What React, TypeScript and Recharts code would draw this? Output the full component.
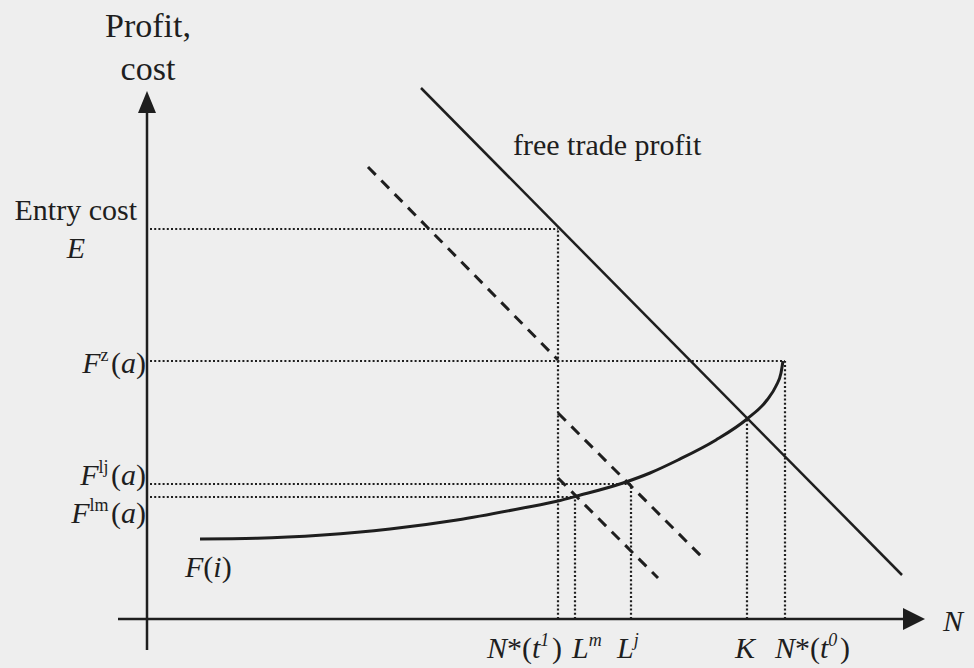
import React from 'react';
import { LineChart, Line, XAxis, YAxis, ReferenceLine, ReferenceDot } from 'recharts';

const W = 974;
const H = 668;
const INK = '#1e1e1e';
const BG = '#eeeeee';
const FONT = '"Liberation Serif", "Times New Roman", serif';

// Values in diagram units: N along x, profit/cost along y (origin at the axes' crossing)
const xTickValues = [41.1, 42.8, 48.4, 60.0, 63.8]; // N*(t1), L^m, L^j, K, N*(t0)
const yTickValues = [39.0, 25.8, 13.5, 12.2]; // E, F^z(a), F^lj(a), F^lm(a)
const kHeight = 20.0; // where F(i) meets free trade profit

const freeTradeProfit = [
    { x: 27.4, y: 53.1 },
    { x: 75.5, y: 4.4 },
];
const dashedHigh = [
    { x: 22.1, y: 45.2 },
    { x: 41.1, y: 25.9 },
];
const dashedMid = [
    { x: 41.1, y: 20.6 },
    { x: 55.5, y: 6.2 },
];
const dashedLow = [
    { x: 41.1, y: 14.1 },
    { x: 51.1, y: 4.1 },
];
const fCurve = [
    { x: 5.3, y: 8.0 },
    { x: 11.0, y: 8.07 },
    { x: 17.6, y: 8.4 },
    { x: 24.3, y: 9.0 },
    { x: 31.0, y: 9.9 },
    { x: 37.6, y: 11.1 },
    { x: 41.1, y: 11.8 },
    { x: 43.0, y: 12.3 },
    { x: 47.6, y: 13.6 },
    { x: 50.3, y: 14.6 },
    { x: 53.1, y: 15.9 },
    { x: 56.9, y: 17.9 },
    { x: 60.0, y: 20.0 },
    { x: 62.0, y: 21.9 },
    { x: 62.9, y: 23.3 },
    { x: 63.4, y: 24.6 },
    { x: 63.6, y: 25.8 },
];

const xAxisRange = [-2.9, 75.6];
const yAxisRange = [-3.1, 50.6];
const xArrowTip = { x: 77.8, y: 0 };
const yArrowTip = { x: 0, y: 52.8 };

// dotted guides built from the tick values
const hGuides = [
    { y: yTickValues[0], x: xTickValues[0] },
    { y: yTickValues[1], x: xTickValues[4] },
    { y: yTickValues[2], x: xTickValues[2] },
    { y: yTickValues[3], x: xTickValues[1] },
];
const vGuides = [
    { x: xTickValues[0], y: yTickValues[0] },
    { x: xTickValues[1], y: yTickValues[3] },
    { x: xTickValues[2], y: yTickValues[2] },
    { x: xTickValues[3], y: kHeight },
    { x: xTickValues[4], y: yTickValues[1] },
];

const textStyle = { fontFamily: FONT, fontSize: 30, fill: INK };
const SUP = 18;

const sup = (s: string, italic = false) => (
    <>
        <tspan fontSize={SUP} dy={-12} fontStyle={italic ? 'italic' : 'normal'}>{s}</tspan>
        <tspan dy={12}>{'\u200a'}</tspan>
    </>
);

// x-axis tick labels (rich text), with start offset from their tick
const xTickLabels: { dx: number; body: React.ReactNode }[] = [
    { dx: -71, body: <><tspan fontStyle="italic">N</tspan>*(<tspan fontStyle="italic">t</tspan>{sup('1', true)})</> },
    { dx: -3, body: <><tspan fontStyle="italic">L</tspan>{sup('m', true)}</> },
    { dx: -14, body: <><tspan fontStyle="italic">L</tspan>{sup('j', true)}</> },
    { dx: -12, body: <tspan fontStyle="italic">K</tspan> },
    { dx: -10, body: <><tspan fontStyle="italic">N</tspan>*(<tspan fontStyle="italic">t</tspan>{sup('0', true)})</> },
];

const yTickLabels: { dy: number; body: React.ReactNode }[] = [
    { dy: 0, body: null },
    { dy: 12, body: <><tspan fontStyle="italic">F</tspan>{sup('z')}(<tspan fontStyle="italic">a</tspan>)</> },
    { dy: 1, body: <><tspan fontStyle="italic">F</tspan>{sup('lj')}(<tspan fontStyle="italic">a</tspan>)</> },
    { dy: 26, body: <><tspan fontStyle="italic">F</tspan>{sup('lm')}(<tspan fontStyle="italic">a</tspan>)</> },
];

const XLabelY = -3.9;

export default function App() {
    return (
        <div style={{ position: 'absolute', left: 0, top: 0, width: W, height: H, background: BG }}>
            <LineChart width={W} height={H} margin={{ top: 0, right: 0, bottom: 0, left: 0 }}>
                <XAxis type="number" dataKey="x" domain={[-14.7, 82.7]} hide allowDataOverflow />
                <YAxis type="number" dataKey="y" domain={[-4.9, 61.9]} hide allowDataOverflow />

                {/* dotted guides */}
                {hGuides.map((g, i) => (
                    <ReferenceLine
                        key={`h${i}`}
                        segment={[{ x: 0.3, y: g.y }, { x: g.x, y: g.y }]}
                        stroke={INK}
                        strokeWidth={2.2}
                        strokeDasharray="2 2.2"
                    />
                ))}
                {vGuides.map((g, i) => (
                    <ReferenceLine
                        key={`v${i}`}
                        segment={[{ x: g.x, y: 0 }, { x: g.x, y: g.y }]}
                        stroke={INK}
                        strokeWidth={2.2}
                        strokeDasharray="2 2.2"
                    />
                ))}

                {/* axes */}
                <ReferenceLine segment={[{ x: xAxisRange[0], y: 0 }, { x: xAxisRange[1], y: 0 }]} stroke={INK} strokeWidth={2.5} />
                <ReferenceLine segment={[{ x: 0, y: yAxisRange[0] }, { x: 0, y: yAxisRange[1] }]} stroke={INK} strokeWidth={2.5} />

                <Line data={freeTradeProfit} dataKey="y" type="linear" stroke={INK} strokeWidth={2.5} dot={false} isAnimationActive={false} />
                <Line data={dashedHigh} dataKey="y" type="linear" stroke={INK} strokeWidth={3} strokeDasharray="11 8" dot={false} isAnimationActive={false} />
                <Line data={dashedMid} dataKey="y" type="linear" stroke={INK} strokeWidth={3} strokeDasharray="11 8" dot={false} isAnimationActive={false} />
                <Line data={dashedLow} dataKey="y" type="linear" stroke={INK} strokeWidth={3} strokeDasharray="11 8" dot={false} isAnimationActive={false} />
                <Line data={fCurve} dataKey="y" type="monotone" stroke={INK} strokeWidth={3} dot={false} activeDot={false} isAnimationActive={false} />

                {/* arrowheads and axis titles */}
                <ReferenceDot
                    x={yArrowTip.x}
                    y={yArrowTip.y}
                    shape={(p: any) => (
                        <g>
                            <polygon points={`${p.cx},${p.cy} ${p.cx - 9},${p.cy + 22} ${p.cx + 9},${p.cy + 22}`} fill={INK} />
                            <text x={p.cx + 1} y={p.cy - 54} textAnchor="middle" {...textStyle} fontSize={34}>Profit,</text>
                            <text x={p.cx + 1} y={p.cy - 11} textAnchor="middle" {...textStyle} fontSize={34}>cost</text>
                        </g>
                    )}
                />
                <ReferenceDot
                    x={xArrowTip.x}
                    y={xArrowTip.y}
                    shape={(p: any) => (
                        <g>
                            <polygon points={`${p.cx},${p.cy} ${p.cx - 22},${p.cy - 11} ${p.cx - 22},${p.cy + 11}`} fill={INK} />
                            <text x={p.cx + 18} y={p.cy + 12} {...textStyle} fontStyle="italic">N</text>
                        </g>
                    )}
                />

                {/* x tick labels */}
                {xTickValues.map((v, i) => (
                    <ReferenceDot
                        key={`xl${i}`}
                        x={v}
                        y={XLabelY}
                        shape={(p: any) => (
                            <text x={p.cx + xTickLabels[i].dx} y={p.cy} {...textStyle}>{xTickLabels[i].body}</text>
                        )}
                    />
                ))}

                {/* y tick labels */}
                <ReferenceDot
                    x={0}
                    y={yTickValues[0]}
                    shape={(p: any) => (
                        <g>
                            <text x={p.cx - 10} y={p.cy - 9} textAnchor="end" {...textStyle}>Entry cost</text>
                            <text x={p.cx - 71} y={p.cy + 29} textAnchor="middle" {...textStyle} fontStyle="italic">E</text>
                        </g>
                    )}
                />
                {yTickValues.slice(1).map((v, j) => (
                    <ReferenceDot
                        key={`yl${j}`}
                        x={0}
                        y={v}
                        shape={(p: any) => (
                            <text x={p.cx - 1} y={p.cy + yTickLabels[j + 1].dy} textAnchor="end" {...textStyle}>{yTickLabels[j + 1].body}</text>
                        )}
                    />
                ))}

                {/* curve labels */}
                <ReferenceDot
                    x={fCurve[0].x}
                    y={fCurve[0].y}
                    shape={(p: any) => (
                        <text x={p.cx - 15} y={p.cy + 38} {...textStyle}>
                            <tspan fontStyle="italic">F</tspan>(<tspan fontStyle="italic">i</tspan>)
                        </text>
                    )}
                />
                <ReferenceDot
                    x={freeTradeProfit[0].x}
                    y={freeTradeProfit[0].y}
                    shape={(p: any) => (
                        <text x={p.cx + 92} y={p.cy + 67} {...textStyle}>free trade profit</text>
                    )}
                />
            </LineChart>
        </div>
    );
}
